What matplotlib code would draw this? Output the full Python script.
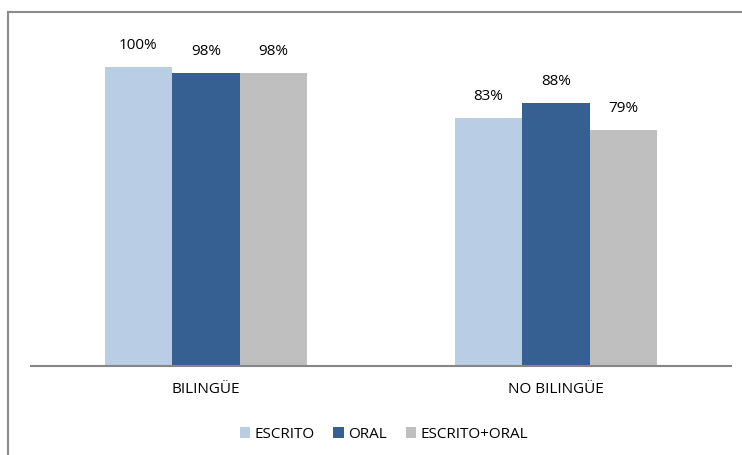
import matplotlib
matplotlib.use("Agg")
import matplotlib.pyplot as plt
import numpy as np
from matplotlib.lines import Line2D

categories = ["BILINGÜE", "NO BILINGÜE"]
series_names = ["ESCRITO", "ORAL", "ESCRITO+ORAL"]
escrito = [1.00, 0.83]
oral = [0.98, 0.88]
escrito_oral = [0.98, 0.79]
labels_escrito = ["100%", "83%"]
labels_oral = ["98%", "88%"]
labels_escrito_oral = ["98%", "79%"]

colors = ["#B9CDE5", "#376092", "#BFBFBF"]

plt.rcParams['font.family'] = ['Open Sans', 'DejaVu Sans']

fig = plt.figure(figsize=(7.42, 4.56), dpi=100)
W, H = 742, 456
ax = fig.add_axes([31 / W, 89 / H, 700 / W, 359 / H])

x = np.arange(len(categories))
bw = 0.193
series = [escrito, oral, escrito_oral]
labs = [labels_escrito, labels_oral, labels_escrito_oral]
for i, (vals, lab) in enumerate(zip(series, labs)):
    pos = x + (i - 1) * bw
    bars = ax.bar(pos, vals, width=bw, color=colors[i], label=series_names[i])
    for b, t in zip(bars, lab):
        ax.text(b.get_x() + b.get_width() / 2, b.get_height() + 0.05, t,
                ha="center", va="bottom", fontsize=11, color="#000000")

ax.set_xlim(-0.5, 1.5)
ax.set_ylim(0, 1.2)
ax.set_yticks([])
ax.set_xticks(x)
ax.set_xticklabels(categories, fontsize=11)
ax.tick_params(axis="x", length=0, pad=11)
for s in ["top", "right", "left"]:
    ax.spines[s].set_visible(False)
ax.spines["bottom"].set_color("#868686")
ax.spines["bottom"].set_linewidth(1.5)

leg = fig.legend(loc="center", bbox_to_anchor=(384 / W, 1 - 435 / H), ncol=3,
                 frameon=False, fontsize=11, handlelength=0.7, handleheight=0.7,
                 handletextpad=0.3, columnspacing=1.2)

# figure border (left and top visible)
fig.add_artist(Line2D([8 / W, 8 / W], [0, 1 - 13 / H], transform=fig.transFigure,
                      color="#8C8C8C", lw=1.5))
fig.add_artist(Line2D([8 / W, 1], [1 - 13 / H, 1 - 13 / H], transform=fig.transFigure,
                      color="#8C8C8C", lw=1.5))

fig.savefig("out.png", dpi=100)
